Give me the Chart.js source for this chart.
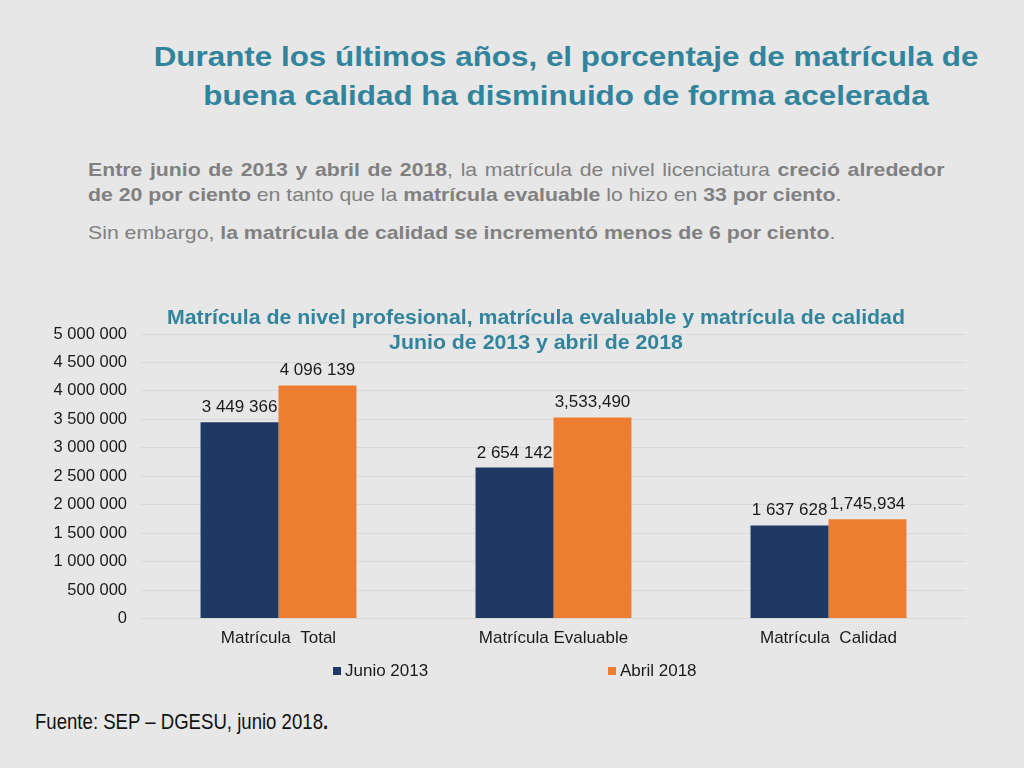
<!DOCTYPE html>
<html>
<head>
<meta charset="utf-8">
<script src="https://cdn.jsdelivr.net/npm/chart.js@4.4.1/dist/chart.umd.min.js"></script>
<style>
  body { margin: 0; width: 1024px; height: 768px; overflow: hidden; position: relative;
         background: #e7e7e7; font-family: "Liberation Sans", Arial, sans-serif; }
  #title { position: absolute; left: 110px; width: 912px; top: 38px; text-align: center;
           color: #31849b; font-weight: bold; font-size: 27px; line-height: 39px;
           transform: scaleX(1.162); transform-origin: 456px 0; }
  #text { position: absolute; left: 88px; width: 766px; top: 157px; color: #808080;
          font-size: 19px; line-height: 25px; transform: scaleX(1.118); transform-origin: 0 0; }
  #text p { margin: 0 0 13px 0; text-align: justify; }
  #chartBox { position: absolute; left: 0; top: 300px; width: 1024px; height: 370px; }
  #chartTitle { position: absolute; left: 136px; width: 800px; top: 305px; text-align: center;
                color: #31849b; font-weight: bold; font-size: 19.5px; line-height: 25px;
                transform: scaleX(1.093); transform-origin: 400px 0; }
  #legend { position: absolute; top: 661px; left: 0; width: 1024px; height: 20px; font-size: 17px; color: #1a1a1a; }
  #legend span { position: absolute; white-space: nowrap; line-height: 20px; }
  #legend i { display: inline-block; width: 8px; height: 8px; margin-right: 4px; vertical-align: 1px; }
  #source { position: absolute; left: 35px; top: 709px; font-size: 22px; color: #111; white-space: nowrap;
            transform: scaleX(0.845); transform-origin: 0 0; }
</style>
</head>
<body>
<div id="title">Durante los últimos años, el porcentaje de matrícula de<br>buena calidad ha disminuido de forma acelerada</div>
<div id="text">
  <p><b>Entre junio de 2013 y abril de 2018</b>, la matrícula de nivel licenciatura <b>creció alrededor de 20 por ciento</b> en tanto que la <b>matrícula evaluable</b> lo hizo en <b>33 por ciento</b>.</p>
  <p>Sin embargo, <b>la matrícula de calidad se incrementó menos de 6 por ciento</b>.</p>
</div>
<div id="chartBox"><canvas id="bar-chart" width="1024" height="370"></canvas></div>
<div id="chartTitle">Matrícula de nivel profesional, matrícula evaluable y matrícula de calidad<br>Junio de 2013 y abril de 2018</div>
<div id="legend"></div>
<div id="source">Fuente: SEP – DGESU, junio 2018<b>.</b></div>

<script>
const categories = ["Matrícula  Total", "Matrícula Evaluable", "Matrícula  Calidad"];
const seriesNames = ["Junio 2013", "Abril 2018"];
const junio2013 = [3449366, 2654142, 1637628];
const abril2018 = [4096139, 3533490, 1745934];
// labels as they appear on the slide (mixed formats)
const junioLabels = ["3 449 366", "2 654 142", "1 637 628"];
const abrilLabels = ["4 096 139", "3,533,490", "1,745,934"];
const colors = ["#203864", "#ed7d31"];

const fmt = (v) => String(v).replace(/\B(?=(\d{3})+(?!\d))/g, " ");

// value labels above each bar
const barLabels = {
  id: "barLabels",
  afterDatasetsDraw(chart) {
    const ctx = chart.ctx;
    const texts = [junioLabels, abrilLabels];
    ctx.save();
    ctx.font = "17px 'Liberation Sans', Arial, sans-serif";
    ctx.fillStyle = "#1a1a1a";
    ctx.textAlign = "center";
    ctx.textBaseline = "alphabetic";
    chart.data.datasets.forEach((ds, i) => {
      chart.getDatasetMeta(i).data.forEach((bar, j) => {
        ctx.fillText(texts[i][j], bar.x, bar.y - 10);
      });
    });
    ctx.restore();
  }
};

const ctx = document.getElementById("bar-chart").getContext("2d");
const chart = new Chart(ctx, {
  type: "bar",
  data: {
    labels: categories,
    datasets: [
      { label: seriesNames[0], data: junio2013, backgroundColor: colors[0] },
      { label: seriesNames[1], data: abril2018, backgroundColor: colors[1] }
    ]
  },
  options: {
    responsive: false,
    animation: false,
    layout: { padding: { top: 34, right: 58, bottom: 11, left: 0 } },
    datasets: { bar: { categoryPercentage: 0.567, barPercentage: 1 } },
    plugins: { legend: { display: false }, title: { display: false }, tooltip: { enabled: false } },
    scales: {
      x: {
        grid: { display: false, drawTicks: false },
        border: { display: false },
        ticks: { color: "#1a1a1a", padding: 10, font: { size: 17, family: "'Liberation Sans', Arial, sans-serif" } }
      },
      y: {
        min: 0,
        max: 5000000,
        afterFit(scale) { scale.width = 141; },
        grid: { color: "#d9d9d9", drawTicks: false },
        border: { display: false },
        ticks: {
          stepSize: 500000,
          padding: 14,
          color: "#1a1a1a",
          font: { size: 16.5, family: "'Liberation Sans', Arial, sans-serif" },
          callback: (v) => fmt(v)
        }
      }
    }
  },
  plugins: [barLabels]
});

// legend in html, positions as on the slide
const legendX = [333, 608];
const legend = document.getElementById("legend");
seriesNames.forEach((name, i) => {
  const s = document.createElement("span");
  s.style.left = legendX[i] + "px";
  s.innerHTML = '<i style="background:' + colors[i] + '"></i>' + name;
  legend.appendChild(s);
});
</script>
</body>
</html>
